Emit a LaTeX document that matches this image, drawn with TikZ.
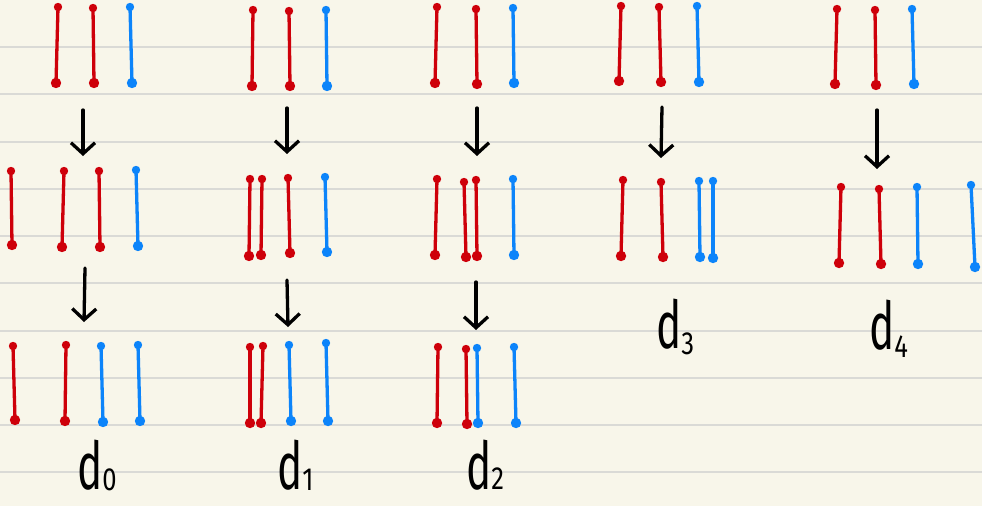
\documentclass[tikz,border=0pt]{standalone}
\usepackage{fontspec}
\setmainfont{Fira Sans}
\usetikzlibrary{arrows.meta}
\definecolor{paper}{RGB}{248,246,234}
\definecolor{rule}{RGB}{218,218,214}
\definecolor{sred}{RGB}{206,0,10}
\definecolor{sblue}{RGB}{12,132,250}
\tikzset{
  segline/.style={line width=3.3pt, line cap=round},
  flow/.style={line width=3.3pt, line cap=round, line join=round, -{Straight Barb[length=11pt,width=24pt,line width=3.3pt]}},
  lbl/.style={inner sep=0pt, anchor=base west}
}
\newcommand\seg[5]{%
  \draw[segline,#5] (#1,#2) -- (#3,#4);
  \fill[#5] (#1,#2) circle (4.2);
  \fill[#5] (#3,#4) circle (5.2);
}
% digit, lowering
\newcommand\dlab[2]{{\fontsize{66}{68}\selectfont\scalebox{0.64}[1]{d}}\raisebox{-#2}{\fontsize{32}{34}\selectfont\scalebox{0.8}[1]{#1}}}
\begin{document}
\begin{tikzpicture}[x=1pt,y=-1pt]
\useasboundingbox (0,0) rectangle (982,506);
\fill[paper] (0,0) rectangle (982,506);
\foreach \y in {47,94,142,189,236,283,331,378,425,472}
  \draw[rule, line width=1.4pt] (0,\y) -- (982,\y);

% ---- d0 ----
\seg{58}{7}{56}{83}{sred}
\seg{93}{8}{94}{83}{sred}
\seg{130}{7}{132}{83}{sblue}
\seg{11}{171}{12}{245}{sred}
\seg{64}{171}{62}{247}{sred}
\seg{99}{171}{100}{247}{sred}
\seg{136}{170}{138}{246}{sblue}
\seg{13}{346}{15}{420}{sred}
\seg{66}{345}{65}{421}{sred}
\seg{101}{346}{103}{422}{sblue}
\seg{138}{345}{140}{421}{sblue}
\coordinate (a0s) at (83,110); \coordinate (a0e) at (83,156);
\coordinate (b0s) at (85,268); \coordinate (b0e) at (84,322);
\draw[flow] (a0s) -- (a0e);
\draw[flow] (b0s) -- (b0e);
\node[lbl] (l0) at (77,489) {\dlab{0}{1pt}};

% ---- d1 ----
\seg{253}{10}{252}{86}{sred}
\seg{289}{11}{290}{86}{sred}
\seg{326}{10}{327}{86}{sblue}
\seg{250}{179}{249}{256}{sred}
\seg{262}{179}{261}{255}{sred}
\seg{288}{178}{290}{253}{sred}
\seg{325}{177}{327}{252}{sblue}
\seg{250}{347}{250}{423}{sred}
\seg{263}{346}{261}{423}{sred}
\seg{289}{345}{291}{421}{sblue}
\seg{326}{343}{328}{421}{sblue}
\coordinate (a1s) at (287,108); \coordinate (a1e) at (287,154);
\coordinate (b1s) at (287,280); \coordinate (b1e) at (288,327);
\draw[flow] (a1s) -- (a1e);
\draw[flow] (b1s) -- (b1e);
\node[lbl] (l1) at (277,489) {\dlab{1}{1pt}};

% ---- d2 ----
\seg{437}{7}{435}{83}{sred}
\seg{476}{9}{477}{84}{sred}
\seg{513}{8}{514}{83}{sblue}
\seg{437}{179}{435}{255}{sred}
\seg{464}{182}{466}{257}{sred}
\seg{476}{180}{477}{256}{sred}
\seg{513}{179}{514}{255}{sblue}
\seg{438}{347}{437}{423}{sred}
\seg{466}{349}{467}{424}{sred}
\seg{477}{348}{478}{423}{sblue}
\seg{514}{347}{516}{423}{sblue}
\coordinate (a2s) at (477,108); \coordinate (a2e) at (477,156);
\coordinate (b2s) at (476,282); \coordinate (b2e) at (476,330);
\draw[flow] (a2s) -- (a2e);
\draw[flow] (b2s) -- (b2e);
\node[lbl] (l2) at (466,489) {\dlab{2}{0pt}};

% ---- d3 ----
\seg{621}{6}{619}{81}{sred}
\seg{659}{7}{661}{82}{sred}
\seg{697}{6}{699}{82}{sblue}
\seg{623}{180}{621}{256}{sred}
\seg{661}{182}{663}{257}{sred}
\seg{699}{181}{700}{257}{sblue}
\seg{713}{181}{713}{258}{sblue}
\coordinate (a3s) at (662,107); \coordinate (a3e) at (661,158);
\draw[flow] (a3s) -- (a3e);
\node[lbl] (l3) at (656,348) {\dlab{3}{6pt}};

% ---- d4 ----
\seg{837}{9}{835}{84}{sred}
\seg{875}{10}{876}{85}{sred}
\seg{912}{9}{914}{84}{sblue}
\seg{841}{187}{839}{263}{sred}
\seg{879}{189}{881}{264}{sred}
\seg{917}{187}{918}{264}{sblue}
\seg{971}{185}{975}{267}{sblue}
\coordinate (a4s) at (877,110); \coordinate (a4e) at (877,169);
\draw[flow] (a4s) -- (a4e);
\node[lbl] (l4) at (869,349) {\dlab{4}{8pt}};
\end{tikzpicture}
\end{document}
